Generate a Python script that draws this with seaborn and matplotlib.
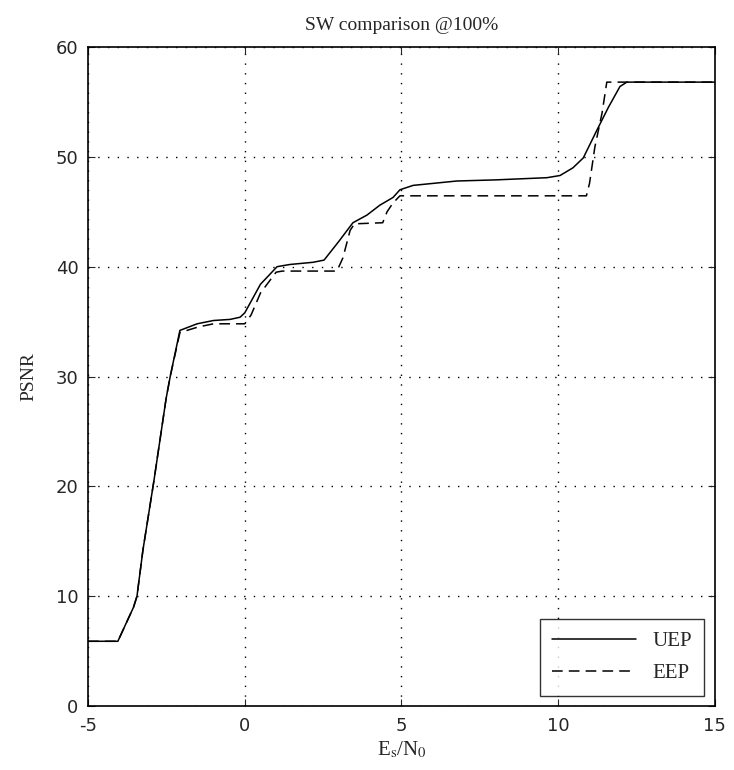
import seaborn as sns
import matplotlib.pyplot as plt
import pandas as pd

# values
uep_x = [-5, -4.05, -3.55, -3.44, -3.25, -2.9, -2.51, -2.38, -2.07, -1.52, -1.0, -0.47, -0.15, 0.0,
         0.5, 1.03, 1.44, 2.18, 2.53, 3.0, 3.45, 3.9, 4.31, 4.73, 4.95, 5.37, 6.77, 8.0, 9.64,
         10.06, 10.47, 10.8, 11.23, 11.6, 11.97, 12.19, 15]
uep_y = [5.9, 5.9, 9.0, 10.0, 14.2, 20.5, 28.0, 30.0, 34.2, 34.8, 35.1, 35.2, 35.4, 35.8,
         38.4, 40.0, 40.2, 40.4, 40.6, 42.3, 44.0, 44.7, 45.6, 46.3, 47.0, 47.4, 47.8, 47.9, 48.1,
         48.3, 49.0, 49.9, 52.4, 54.5, 56.4, 56.8, 56.8]

eep_x = [-5, -4.05, -3.55, -3.44, -3.25, -2.9, -2.51, -2.38, -2.07, -1.5, -1.0, 0.0,
         0.2, 0.5, 1.0, 1.2, 2.94, 3.13, 3.36, 3.5, 4.4, 4.54, 4.73, 4.95, 10.9, 11.0,
         11.17, 11.4, 11.55, 15]
eep_y = [5.9, 5.9, 9.0, 10.0, 14.2, 20.5, 28.0, 30.0, 34.0, 34.5, 34.8, 34.8,
         35.6, 37.6, 39.5, 39.6, 39.6, 40.8, 43.3, 43.9, 44.0, 45.0, 45.8, 46.45, 46.45, 47.6,
         50.9, 54.0, 56.8, 56.8]

df = pd.concat([
    pd.DataFrame({"x": uep_x, "y": uep_y, "scheme": "UEP"}),
    pd.DataFrame({"x": eep_x, "y": eep_y, "scheme": "EEP"}),
])

sns.set_style("ticks")
plt.rcParams["font.family"] = ["Liberation Serif", "DejaVu Serif"]
plt.rcParams["mathtext.fontset"] = "stix"
plt.rcParams["axes.unicode_minus"] = False

fig = plt.figure(figsize=(7.34, 7.70), dpi=100)
ax = fig.add_axes([0.12, 0.083, 0.854, 0.856])

sns.lineplot(data=df, x="x", y="y", hue="scheme", style="scheme",
             palette={"UEP": "black", "EEP": "black"},
             dashes={"UEP": "", "EEP": (7, 4)},
             sort=False, estimator=None, linewidth=1.1, ax=ax)

ax.set_xlim(-5, 15)
ax.set_ylim(0, 60)
ax.set_xticks([-5, 0, 5, 10, 15])
ax.set_yticks([0, 10, 20, 30, 40, 50, 60])
ax.grid(True, linestyle=(0, (1, 6)), color="black", linewidth=1.0)
ax.tick_params(direction="in", top=True, right=True, length=5, labelsize=13)
ax.tick_params(axis="x", pad=8)
ax.tick_params(axis="y", pad=7)
for lab in ax.get_xticklabels() + ax.get_yticklabels():
    lab.set_family("DejaVu Sans")
for s in ax.spines.values():
    s.set_visible(True)
    s.set_color("black")
    s.set_linewidth(1.2)

ax.set_title("SW comparison @100%", fontsize=14, pad=12)
ax.set_xlabel(r"E$_\mathrm{s}$/N$_\mathrm{0}$", fontsize=15, labelpad=3)
ax.set_ylabel("PSNR", fontsize=14, labelpad=13)

leg = ax.legend(loc="lower right", fontsize=15, frameon=True, fancybox=False,
                edgecolor="black", handlelength=4.0, borderaxespad=0.5,
                borderpad=0.6, labelspacing=0.6)
leg.get_frame().set_linewidth(1.0)

fig.savefig("out.png", dpi=100)
